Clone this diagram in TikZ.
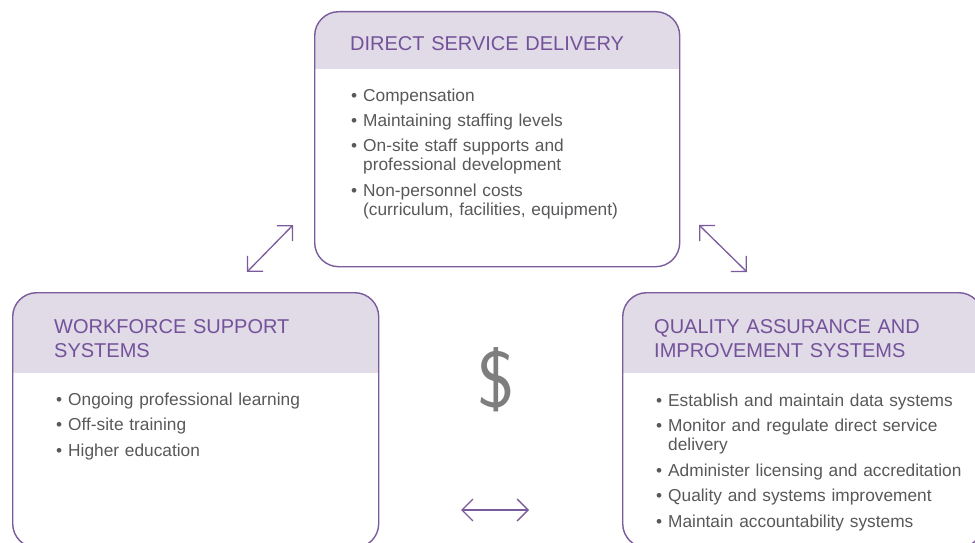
\documentclass[tikz,border=0pt]{standalone}
\usepackage{fontspec}
\setmainfont{Liberation Sans}
\usetikzlibrary{arrows.meta,positioning}
\definecolor{boxline}{HTML}{7A5B9C}
\definecolor{headfill}{HTML}{E1DAE7}
\definecolor{headtext}{HTML}{74529A}
\definecolor{bodytext}{HTML}{58585A}
\definecolor{dollargray}{HTML}{7E7E7E}
\newcommand{\bitem}[1]{\hangindent=12pt\hangafter=1\noindent\makebox[12pt][l]{\textbullet}#1\par\vspace{6.5pt}}
\tikzset{band/.style={path picture={\fill[headfill,sharp corners] (path picture bounding box.north west) rectangle ([yshift=-#1]path picture bounding box.north east);}}}
\tikzset{link/.style={draw=boxline,line width=1.3pt,{Straight Barb[length=11pt,width=22pt]}-{Straight Barb[length=11pt,width=22pt]}}}
\begin{document}
\begin{tikzpicture}[x=1pt,y=-1pt]
      \tikzstyle{panel}=[draw=boxline,line width=1.4pt,rounded corners=24pt,anchor=north west,inner sep=0pt]
      \tikzstyle{head}=[anchor=base west,inner sep=0pt,text width=320pt,text=headtext,font=\fontsize{20}{24.5}\selectfont]
      \tikzstyle{list}=[anchor=base west,inner sep=0pt,text width=320pt,text=bodytext,font=\fontsize{17.3}{19}\selectfont]
      \useasboundingbox (0,0) rectangle (975,543);
      \clip (0,0) rectangle (975,543);
      \node[panel,band=57pt,minimum width=365pt,minimum height=255pt] (dsd) at (314,11) {};
      \node[panel,band=80pt,minimum width=366pt,minimum height=255pt] (wss) at (12,292) {};
      \node[panel,band=80pt,minimum width=360pt,minimum height=255pt] (qas) at (622,292) {};
      \node[head] (dsdhead) at (350,51) {DIRECT SERVICE DELIVERY};
      \node[head] (wsshead) at (54,333) {WORKFORCE SUPPORT\\SYSTEMS};
      \node[head] (qashead) at (654,333) {QUALITY ASSURANCE AND\\IMPROVEMENT SYSTEMS};
      \node[list] (dsdlist) at (351,101) {\bitem{Compensation}\bitem{Maintaining staffing levels}\bitem{On-site staff supports and\newline professional development}\bitem{Non-personnel costs\newline (curriculum, facilities, equipment)}};
      \node[list] (wsslist) at (56,405) {\bitem{Ongoing professional learning}\bitem{Off-site training}\bitem{Higher education}};
      \node[list] (qaslist) at (656,406) {\bitem{Establish and maintain data systems}\bitem{Monitor and regulate direct service\newline delivery}\bitem{Administer licensing and accreditation}\bitem{Quality and systems improvement}\bitem{Maintain accountability systems}};
      \node[text=dollargray,font=\sffamily\fontsize{80}{80}\selectfont] (cash) at (496,380) {\$};
      \coordinate (wl) at (247,272);
      \coordinate (wu) at (293,225);
      \coordinate (ql) at (699,225);
      \coordinate (qr) at (747,272);
      \coordinate (ml) at (461,510);
      \coordinate (mr) at (529,510);
      \draw[link] (wl) -- (wu);
      \draw[link] (ql) -- (qr);
      \draw[link] (ml) -- (mr);
    \end{tikzpicture}
\end{document}
